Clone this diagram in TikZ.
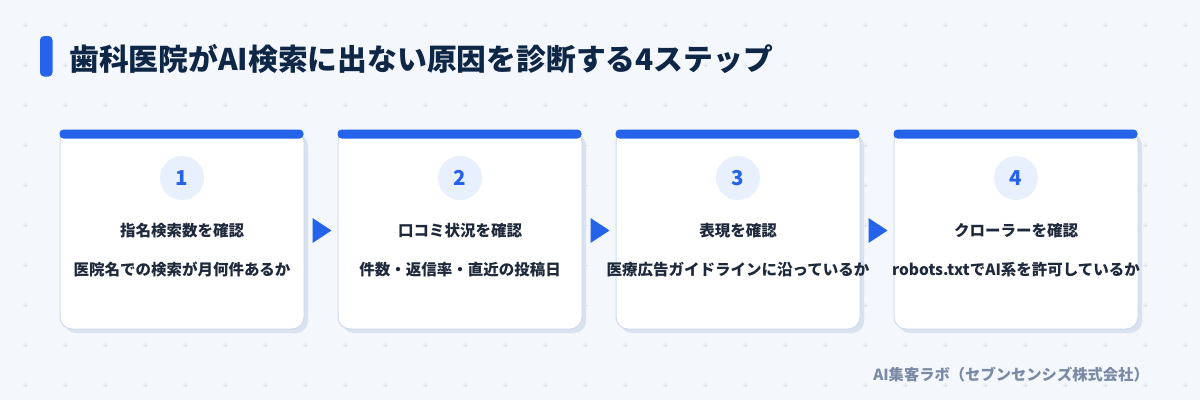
\documentclass[tikz,border=0pt]{standalone}
\usepackage{fontspec}
\setmainfont{Noto Sans CJK JP}
\usetikzlibrary{calc}
\definecolor{bgc}{HTML}{F4F7FC}
\definecolor{plusc}{HTML}{E0E6F0}
\definecolor{bluec}{HTML}{2563EB}
\definecolor{titlec}{HTML}{0F2747}
\definecolor{textc}{HTML}{1E293B}
\definecolor{borderc}{HTML}{D0DCEC}
\definecolor{shadowc}{HTML}{D9E2EF}
\definecolor{circc}{HTML}{E8F0FD}
\definecolor{footc}{HTML}{7B8BA5}
\tikzset{
  card/.style={draw=borderc, line width=1pt, fill=white, rounded corners=12pt,
    minimum width=244pt, minimum height=199pt, inner sep=0pt},
  cardshadow/.style={fill=shadowc, rounded corners=12pt, minimum width=244pt,
    minimum height=199pt, inner sep=0pt},
  numcirc/.style={circle, fill=circc, minimum size=44pt, inner sep=0pt,
    text=bluec, font=\bfseries\fontsize{20.5}{21}\selectfont},
  headtxt/.style={anchor=base, inner sep=0pt, text=textc, font=\bfseries\fontsize{15.5}{16}\selectfont},
  subtxt/.style={anchor=base, inner sep=0pt, text=textc, font=\bfseries\fontsize{15.5}{16}\selectfont},
  stepmark/.style={fill=bluec},
}
\begin{document}
\begin{tikzpicture}[x=1pt,y=-1pt]
\useasboundingbox (0,0) rectangle (1200,400);
\fill[bgc] (0,0) rectangle (1200,400);
\foreach \px in {25,65,...,1185}{
  \foreach \py in {25,65,...,385}{
    \draw[plusc, line width=0.8pt] (\px-2.5,\py) -- (\px+2.5,\py) (\px,\py-2.5) -- (\px,\py+2.5);
  }
}
% title
\fill[bluec, rounded corners=4pt] (40,36) rectangle (52.5,76.5);
\node[anchor=base west, inner sep=0pt, text=titlec, font=\bfseries\fontsize{29.8}{31}\selectfont] (title) at (69,70) {歯科医院がAI検索に出ない原因を診断する4ステップ};
% cards
\foreach \i/\h/\s in {1/指名検索数を確認/医院名での検索が月何件あるか,
                      2/口コミ状況を確認/件数・返信率・直近の投稿日,
                      3/表現を確認/医療広告ガイドラインに沿っているか,
                      4/クローラーを確認/robots.txtでAI系を許可しているか}{
  \pgfmathsetmacro\cx{182+278*(\i-1)}
  \node[cardshadow] (shadow\i) at (\cx+4,233.5) {};
  \node[card] (card\i) at (\cx,229.5) {};
  \fill[bluec, rounded corners=4pt] (card\i.north west) rectangle ++(244,9);
  \node[numcirc] (num\i) at (\cx,178) {\i};
  \node[headtxt] (head\i) at (\cx,236) {\h};
  \node[subtxt] (sub\i) at (\cx,275) {\s};
}
\foreach \i in {1,2,3}{
  \fill[stepmark] ($(card\i.east)+(8,-11.5)$) -- ++(19,12.5) -- ++(-19,12.5) -- cycle;
}
\node[anchor=base east, inner sep=0pt, text=footc, font=\bfseries\fontsize{15.3}{16}\selectfont] (footer) at (1149,380) {AI集客ラボ（セブンセンシズ株式会社）};
\end{tikzpicture}
\end{document}
